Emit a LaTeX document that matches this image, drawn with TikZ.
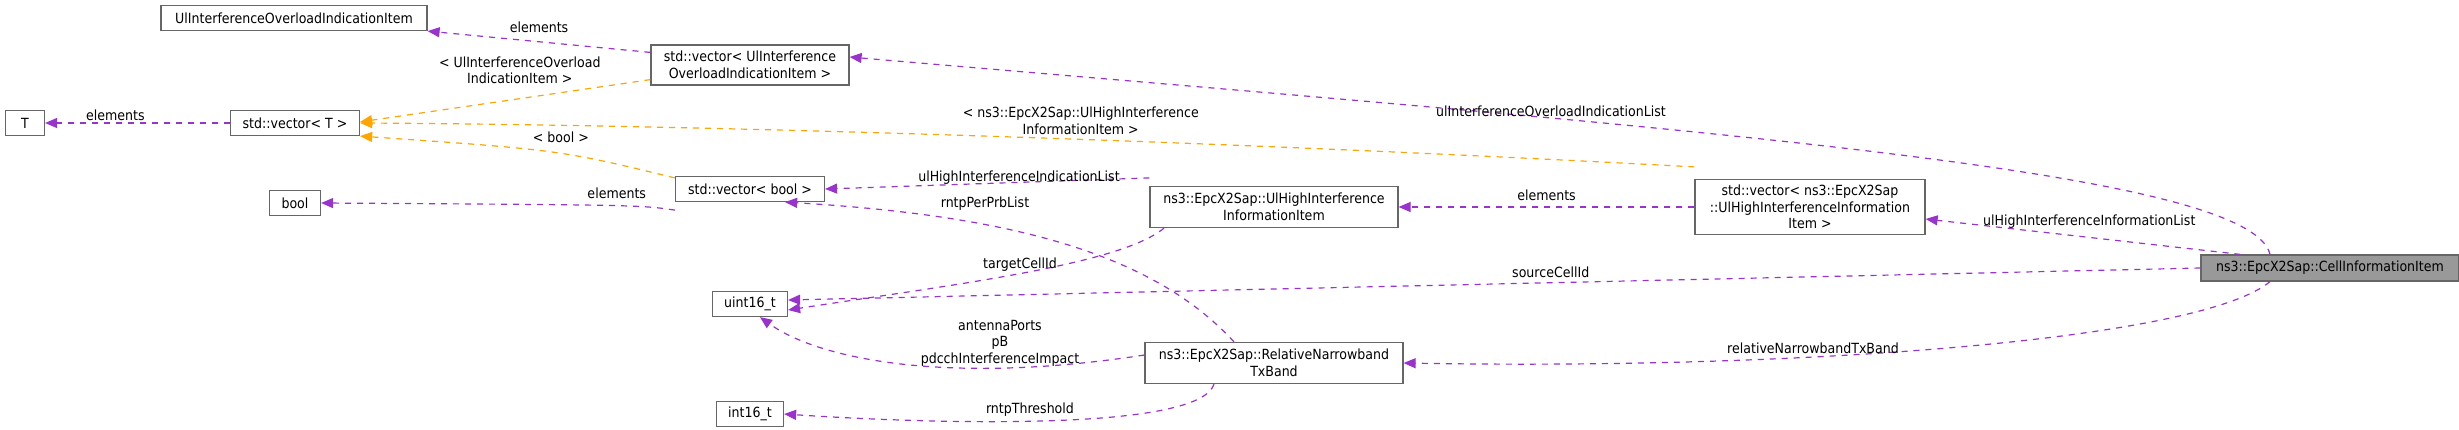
\documentclass[tikz,border=0pt]{standalone}
\usepackage{fontspec}
\setmainfont{DejaVu Sans Condensed}
\usetikzlibrary{arrows.meta}
\definecolor{pur}{HTML}{9A32CD}
\definecolor{org}{HTML}{FFA500}
\begin{document}
\begin{tikzpicture}[x=0.5pt,y=-0.5pt,font=\fontsize{7}{8.3}\selectfont,
  box/.style={draw=black!60,fill=white,line width=0.6pt,inner sep=0pt,align=center,minimum height=12.5pt},
  rel/.style={pur,dashed,line width=0.6pt,-{Triangle[length=6pt,width=5pt]}},
  inh/.style={org,dashed,line width=0.6pt,-{Triangle[length=6pt,width=5pt]}},
  lab/.style={align=center,inner sep=1pt,text=black}]
\useasboundingbox (0,0) rectangle (2459,429);
\node[box,minimum width=133pt] (uio) at (294,18) {UlInterferenceOverloadIndicationItem};
\node[box,minimum width=99pt,minimum height=20pt] (vuio) at (750,65) {std::vector\textless{} UlInterference\\OverloadIndicationItem \textgreater};
\node[box,minimum width=19.5pt] (t) at (25,123) {T};
\node[box,minimum width=64.5pt] (vt) at (295,123) {std::vector\textless{} T \textgreater};
\node[box,minimum width=25.5pt] (bool) at (295,203) {bool};
\node[box,minimum width=74.5pt] (vb) at (750,189) {std::vector\textless{} bool \textgreater};
\node[box,minimum width=37.5pt] (u16) at (750,304) {uint16\_t};
\node[box,minimum width=33.5pt] (i16) at (750,414) {int16\_t};
\node[box,minimum width=124pt,minimum height=20.5pt] (uhi) at (1274,207) {ns3::EpcX2Sap::UlHighInterference\\InformationItem};
\node[box,minimum width=115pt,minimum height=27.5pt] (vuh) at (1810,207) {std::vector\textless{} ns3::EpcX2Sap\\::UlHighInterferenceInformation\\Item \textgreater};
\node[box,minimum width=129pt,minimum height=20.5pt] (rnb) at (1274,363) {ns3::EpcX2Sap::RelativeNarrowband\\TxBand};
\node[box,fill=black!40,minimum width=129pt,minimum height=13pt] (cell) at (2330,268) {ns3::EpcX2Sap::CellInformationItem};

\draw[rel] (vuio.north west) ++(0,8) -- (uio.south east) node[lab,pos=0.5,above=3pt]{elements};
\draw[inh] (vuio.south west) ++(0,-6) -- ([yshift=-6]vt.north east) node[lab,pos=0.45,above=6pt]{\textless{} UlInterferenceOverload\\IndicationItem \textgreater};
\draw[rel] (vt) -- (t) node[lab,pos=0.62,above]{elements};
\draw[inh] (vb.north west) ++(0,2) .. controls (560,150) .. (vt.south east) node[lab,pos=0.45,above=4pt]{\textless{} bool \textgreater};
\draw[rel] ([yshift=-4]vb.south west) .. controls (640,205) .. (bool.east) node[lab,pos=0.45,above=2pt]{elements};
\draw[inh] ([yshift=6]vuh.north west) .. controls (1200,140) and (700,125) .. (vt.east) node[lab,pos=0.42,above=1pt]{\textless{} ns3::EpcX2Sap::UlHighInterference\\InformationItem \textgreater};
\draw[rel] ([yshift=4]uhi.north west) -- (vb.east);
\node[lab] (l1) at (1019,178) {ulHighInterferenceIndicationList};
\draw[rel] (vuh.west) -- (uhi.east) node[lab,pos=0.5,above=2pt]{elements};
\draw[rel] ([xshift=-20]rnb.north) .. controls (1150,250) and (1000,215) .. ([xshift=-20]vb.south east);
\node[lab] (l2) at (985,204) {rntpPerPrbList};
\draw[rel] ([xshift=-55]uhi.south) .. controls (1120,265) and (950,285) .. ([yshift=-3]u16.east);
\node[lab] (l3) at (1020,265) {targetCellId};
\draw[rel] (cell.west) -- ([yshift=2]u16.east) node[lab,pos=0.46,above=1pt]{sourceCellId};
\draw[rel] ([yshift=4]rnb.west) .. controls (950,385) and (820,360) .. ([xshift=5]u16.south);
\node[lab] (l4) at (1000,343) {antennaPorts\\pB\\pdcchInterferenceImpact};
\draw[rel] ([xshift=-30]rnb.south) .. controls (1200,430) and (950,425) .. (i16.east) node[lab,pos=0.55,above=1pt]{rntpThreshold};
\draw[rel] ([xshift=-30]cell.north) .. controls (2250,170) and (1700,130) .. ([yshift=4]vuio.east);
\node[lab] (l5) at (1551,111) {ulInterferenceOverloadIndicationList};
\draw[rel] ([xshift=20]cell.north west) -- ([yshift=-6]vuh.east) node[lab,pos=0.48,above=3pt]{ulHighInterferenceInformationList};
\draw[rel] ([xshift=-30]cell.south) .. controls (2200,340) and (1800,370) .. (rnb.east);
\node[lab] (l6) at (1813,348) {relativeNarrowbandTxBand};
\end{tikzpicture}
\end{document}
